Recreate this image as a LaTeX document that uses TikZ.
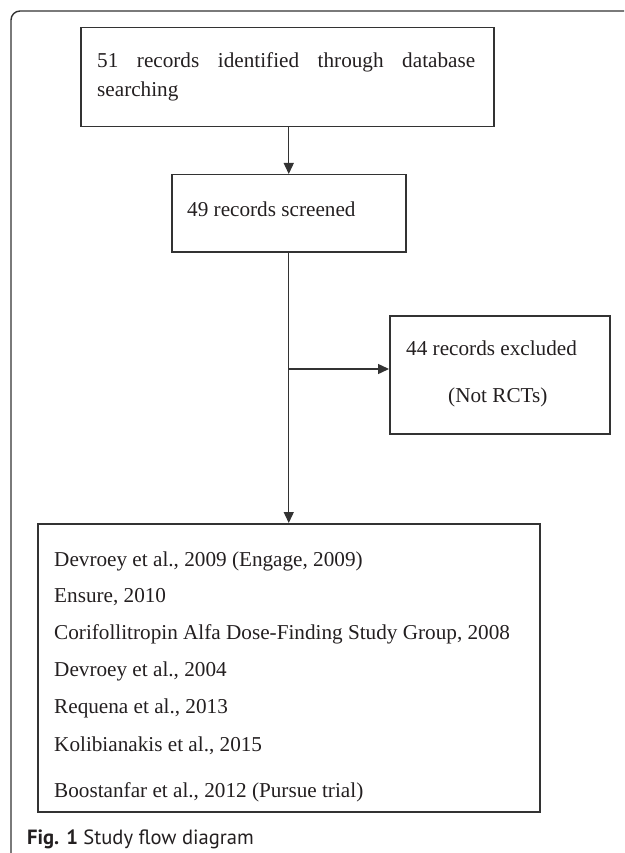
\documentclass[tikz,border=0pt]{standalone}
\usepackage{fontspec}
\setmainfont{Liberation Serif}
\newfontfamily\capfont{PT Sans}
\usetikzlibrary{arrows.meta}
\definecolor{ink}{HTML}{231F20}
\definecolor{frame}{HTML}{333333}
\tikzset{
  boxnode/.style={draw=frame, line width=1.5pt, rectangle, inner sep=0pt, anchor=north west},
  txt/.style={anchor=base west, inner sep=0pt, text=ink, font=\fontsize{21.2}{25}\selectfont},
  conn/.style={draw=frame, line width=1.4pt},
  arr/.style={conn, -{Triangle[length=11pt,width=10pt]}},
}
\begin{document}
\begin{tikzpicture}[x=1pt,y=-1pt]
\useasboundingbox (0,0) rectangle (624,853);
% outer frame
\draw[draw=frame, line width=1.4pt, rounded corners=9pt] (11,853) -- (11,11) -- (624,11);
% boxes
\node[boxnode, minimum width=413pt, minimum height=99pt] (b1) at (80,27) {};
\node[boxnode, minimum width=234pt, minimum height=77pt] (b2) at (171,174) {};
\node[boxnode, minimum width=220pt, minimum height=118pt] (b3) at (389,315) {};
\node[boxnode, minimum width=502pt, minimum height=288pt] (b4) at (37,523) {};
% texts
\node[txt] (t1a) at (97,68) {\hbox to 378pt{51\hfill records\hfill identified\hfill through\hfill database}};
\node[txt] (t1b) at (97,97) {searching};
\node[txt] (t2) at (187,216) {49 records screened};
\node[txt] (t3a) at (406,355) {44 records excluded};
\node[txt] (t3b) at (448,402) {(Not RCTs)};
\node[txt] (l1) at (54,566) {Devroey et al., 2009 (Engage, 2009)};
\node[txt] (l2) at (54,602) {Ensure, 2010};
\node[txt] (l3) at (54,639) {Corifollitropin Alfa Dose-Finding Study Group, 2008};
\node[txt] (l4) at (54,676) {Devroey et al., 2004};
\node[txt] (l5) at (54,713) {Requena et al., 2013};
\node[txt] (l6) at (54,751) {Kolibianakis et al., 2015};
\node[txt] (l7) at (54,797) {Boostanfar et al., 2012 (Pursue trial)};
% caption
\node[anchor=base west, inner sep=0pt, text=ink, font=\capfont\fontsize{20.6}{24}\selectfont] (cap) at (27,844) {\textbf{Fig. 1} Study flow diagram};
% connectors
\coordinate (br) at (288,369);
\draw[arr] (b1.south -| b2.north) -- (b2.north);
\draw[arr] (b2.south) -- (b4.north);
\draw[arr] (br) -- (br -| b3.west);
\end{tikzpicture}
\end{document}
